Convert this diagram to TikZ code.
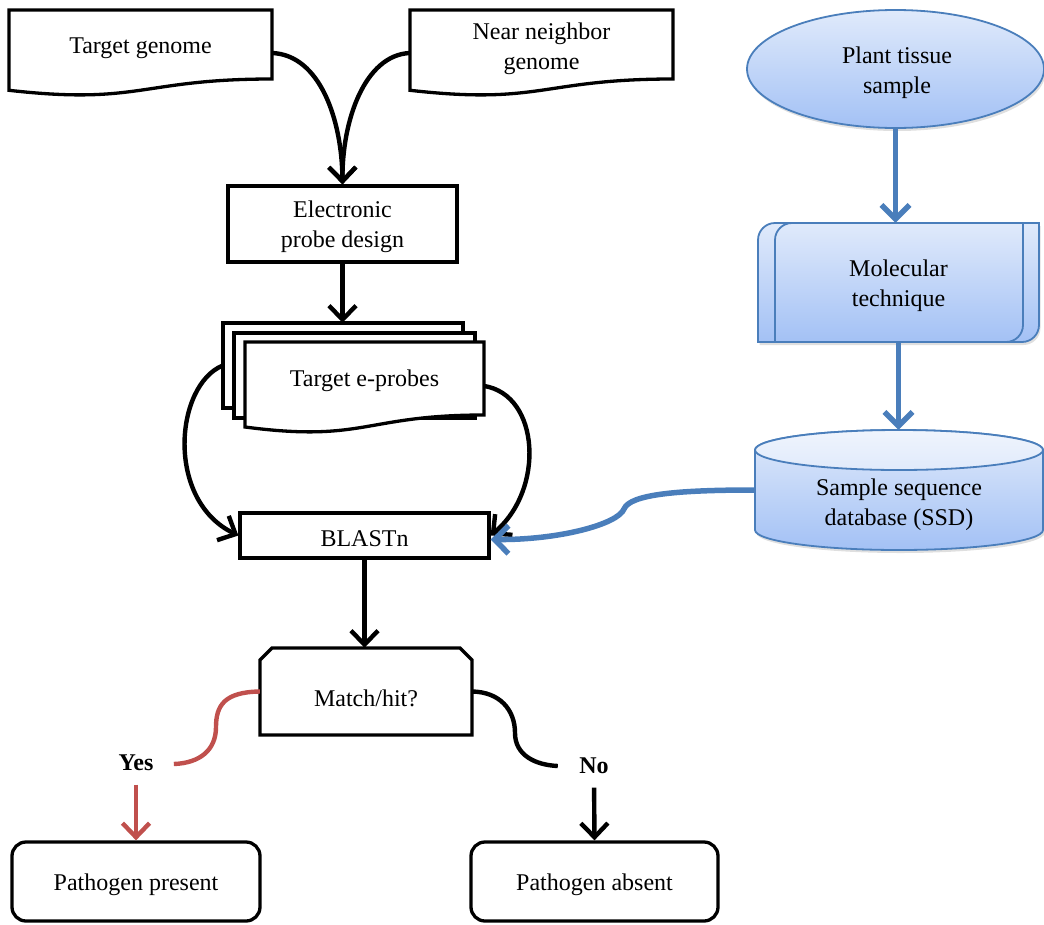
\documentclass[tikz,border=0pt]{standalone}
\usepackage{fontspec}
\setmainfont{Liberation Serif}
\usetikzlibrary{arrows.meta,shapes.geometric,shadows,calc}
\definecolor{obl}{RGB}{74,126,187}
\definecolor{ored}{RGB}{192,80,77}
\definecolor{gtop}{RGB}{224,234,251}
\definecolor{gbot}{RGB}{163,193,245}
\begin{document}
\begin{tikzpicture}[x=1pt,y=-1pt,font=\fontsize{24}{30}\selectfont,
  blk/.style={line width=3.3pt,draw=black,fill=white},
  conn/.style={line width=4.4pt,-{Straight Barb[length=14pt,width=27pt]}},
  bconn/.style={line width=5.5pt,draw=obl,-{Straight Barb[length=14pt,width=28pt]}},
  bshape/.style={draw=obl,line width=1.8pt,top color=gtop,bottom color=gbot},
  shad/.style={drop shadow={opacity=0.25,shadow xshift=1.5pt,shadow yshift=-3pt}},
  box/.style={inner sep=0pt},
  lbl/.style={align=center,inner sep=0pt,yshift=-3pt},
  bold/.style={font=\fontsize{24}{30}\selectfont\bfseries}]
\useasboundingbox (0,0) rectangle (1044,924);

% ---- document shapes (top left)
\draw[blk] (9,10) -- (272,10) -- (272,79) .. controls (140.5,79) and (140.5,105.2) .. (9,90.3) -- cycle;
\draw[blk] (410,10) -- (673,10) -- (673,79) .. controls (541.5,79) and (541.5,105.2) .. (410,90.3) -- cycle;
\node[box,minimum width=263pt,minimum height=70pt] (tg) at (140.5,45) {};
\node[box,minimum width=263pt,minimum height=70pt] (nn) at (541.5,46) {};
\node[lbl] (tgl) at (140.5,45) {Target genome};
\node[lbl] (nnl) at (541.5,46) {Near neighbor\\genome};

% ---- electronic probe design
\node[blk,box,minimum width=229pt,minimum height=76pt] (epd) at (342.5,224) {};
\node[lbl] (epdl) at (342.5,224) {Electronic\\probe design};

% ---- multidocument
\draw[blk] (223,323) rectangle (463,408);
\draw[blk] (234,333) rectangle (475,418);
\draw[blk] (245,342) -- (484,342) -- (484,415) .. controls (364.5,415) and (364.5,442.8) .. (245,427) -- cycle;
\node[box,minimum width=240pt,minimum height=85pt] (epb) at (343,365.5) {};
\node[box,minimum width=239pt,minimum height=88pt] (epf) at (364.5,386) {};
\node[lbl] (ep) at (364.5,378) {Target e-probes};

% ---- BLASTn
\node[blk,box,minimum width=249pt,minimum height=45pt] (bl) at (364.5,535.5) {};
\node[lbl] (bll) at (364.5,535.5) {BLASTn};

% ---- Match/hit?
\draw[blk] (260,735) -- (260,660) -- (272,648) -- (460,648) -- (472,660) -- (472,735) -- cycle;
\node[box,minimum width=212pt,minimum height=87pt] (mh) at (366,691.5) {};
\node[lbl] (mhl) at (366,695) {Match/hit?};

% ---- labels and results
\node[bold] (yes) at (136,763) {Yes};
\node[bold] (no) at (594,766) {No};
\node[blk,box,rounded corners=14pt,minimum width=248pt,minimum height=79pt] (pp) at (136,881.5) {};
\node[blk,box,rounded corners=14pt,minimum width=247pt,minimum height=79pt] (pa) at (594.5,881.5) {};
\node[lbl] (ppl) at (136,882) {Pathogen present};
\node[lbl] (pal) at (594.5,882) {Pathogen absent};

% ---- right column
\node[ellipse,bshape,shad,minimum width=297pt,minimum height=118pt,inner sep=0pt] (pts) at (895.5,69) {};
\node[lbl] (ptsl) at (897,70) {Plant tissue\\sample};

\path[bshape,shad] (758,342) -- (758,240) .. controls (758,230.6) and (765.6,223) .. (775,223) -- (1039,223) -- (1039,325) .. controls (1039,334.4) and (1031.4,342) .. (1022,342) -- cycle;
\path[bshape] (775,342) -- (775,240) .. controls (775,230.6) and (782.6,223) .. (792,223) -- (1023,223) -- (1023,325) .. controls (1023,334.4) and (1015.4,342) .. (1006,342) -- cycle;
\node[box,minimum width=281pt,minimum height=119pt] (mol) at (898.5,282.5) {};
\node[lbl] (moll) at (898.5,283) {Molecular\\technique};

\path[bshape,shad] (755,450) -- (755,530) arc[start angle=180,end angle=360,x radius=144pt,y radius=20pt] -- (1043,450) arc[start angle=0,end angle=180,x radius=144pt,y radius=20pt] -- cycle;
\path[draw=obl,line width=1.8pt,top color=gtop!50!white,bottom color=gtop] (899,450) ellipse[x radius=144pt,y radius=20pt];
\node[box,minimum width=288pt,minimum height=120pt] (ssd) at (899,490) {};
\node[lbl] (ssdl) at (899,502) {Sample sequence\\database (SSD)};

% ---- connectors
\draw[conn] ($(tg.east)+(0,8)$) .. controls (320,55) and (342,120) .. (epd.north);
\draw[conn] ($(nn.west)+(0,7)$) .. controls (365,55) and (342,120) .. (epd.north);
\draw[conn] (epd.south) -- (epd.south |- epb.north);
\draw[conn] (epb.west) .. controls (175,385) and (165,500) .. (bl.west);
\draw[conn] (epf.east) .. controls (540,395) and (545,490) .. (bl.east);
\draw[conn] (bl.south) -- (bl.south |- mh.north);
\draw[line width=4.4pt,ored] (mh.west) .. controls (225,692) and (216,705) .. (216,727) .. controls (216,750) and (200,763) .. ($(yes.east)+(17,1)$);
\draw[conn,ored,shorten <=10pt] (yes.south) -- (pp.north);
\draw[line width=4.4pt] (mh.east) .. controls (500,692) and (515,710) .. (515,733) .. controls (515,755) and (535,765) .. ($(no.west)+(-18,0)$);
\draw[conn,shorten <=10pt] (no.south) -- (pa.north);
\draw[bconn] (pts.south) -- (pts.south |- mol.north);
\draw[bconn] (mol.south) -- (mol.south |- ssd.north);
\draw[bconn] (ssd.west) .. controls (680,490) and (630,494) .. (624,509) .. controls (618,524) and (560,540) .. ($(bl.east)+(0,4)$);
\end{tikzpicture}
\end{document}
